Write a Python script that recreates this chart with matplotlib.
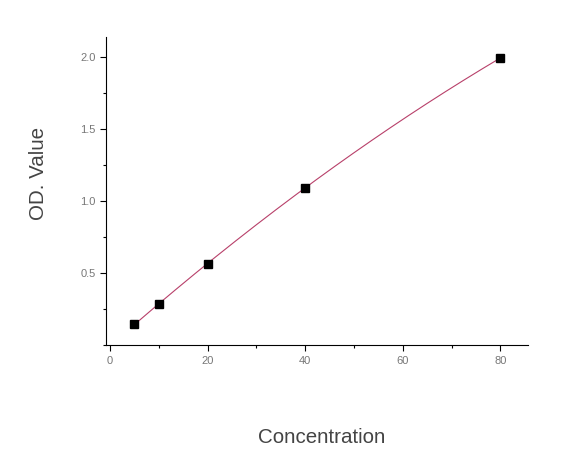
import numpy as np
import matplotlib
matplotlib.use("Agg")
import matplotlib.pyplot as plt
from matplotlib.ticker import MultipleLocator, FormatStrFormatter

plt.rcParams["font.family"] = ["Liberation Sans", "DejaVu Sans"]

# standard curve data
concentration = [5, 10, 20, 40, 80]
od_value = [0.145, 0.285, 0.565, 1.095, 1.995]

fig = plt.figure(figsize=(5.76, 4.53), dpi=100)
ax = fig.add_axes([0.184, 0.238, 0.733, 0.680])

# smooth fitted curve through the standards
coef = np.polyfit(concentration, od_value, 2)
xs = np.linspace(min(concentration), max(concentration), 200)
ax.plot(xs, np.polyval(coef, xs), color="#b8406a", lw=0.8)
ax.plot(concentration, od_value, "s", color="black", ms=5.5)

ax.set_xlim(-0.8, 85.7)
ax.set_ylim(0, 2.14)
ax.spines["top"].set_visible(False)
ax.spines["right"].set_visible(False)
for s in ("left", "bottom"):
    ax.spines[s].set_linewidth(0.8)

ax.set_xticks([0, 20, 40, 60, 80])
ax.set_yticks([0.5, 1.0, 1.5, 2.0])
ax.xaxis.set_minor_locator(MultipleLocator(10))
ax.yaxis.set_minor_locator(MultipleLocator(0.25))
ax.tick_params(which="both", direction="out", width=0.8, labelsize=8,
               labelcolor="#777777")
ax.tick_params(which="major", length=4)
ax.tick_params(which="minor", length=2.5)
ax.yaxis.set_major_formatter(FormatStrFormatter("%.1f"))

fig.text(0.558, 0.035, "Concentration", ha="center", va="center",
         fontsize=14.8, color="#444444")
fig.text(0.066, 0.618, "OD. Value", ha="center", va="center",
         rotation=90, fontsize=14.8, color="#444444")

fig.savefig("out.png", dpi=100)
